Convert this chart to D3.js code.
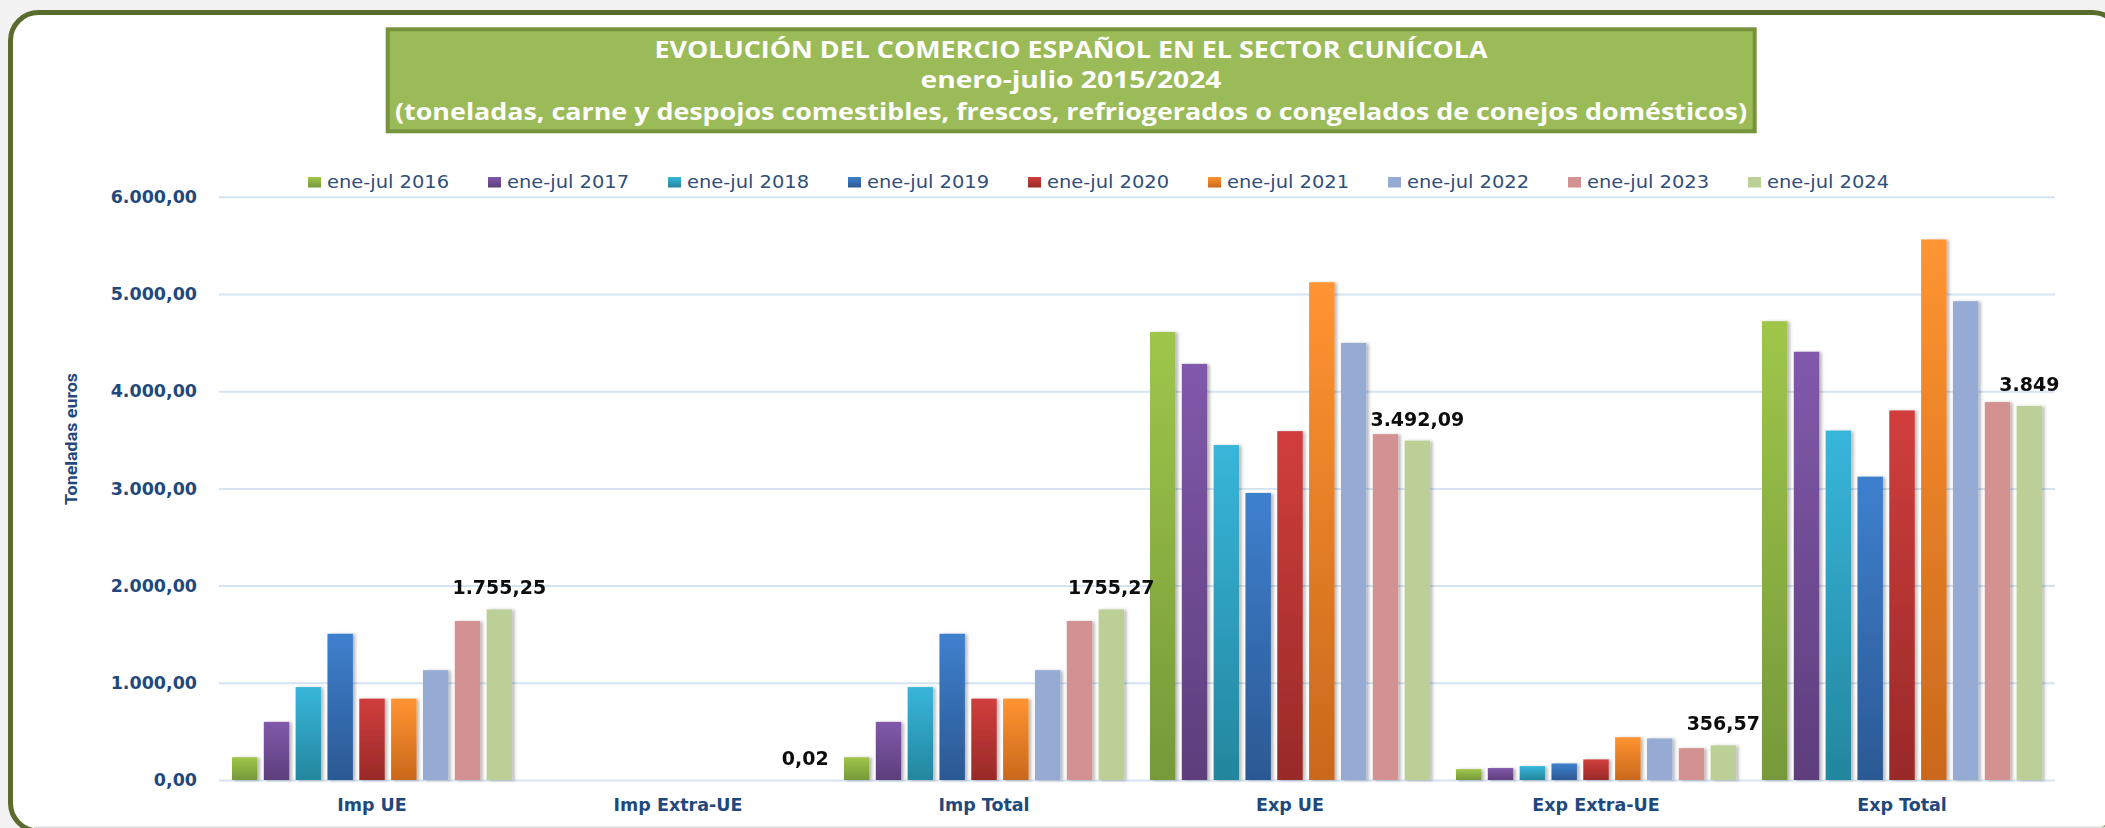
<!DOCTYPE html>
<html>
<head>
<meta charset="utf-8">
<script src="https://cdn.jsdelivr.net/npm/d3@7"></script>
<style>
  html, body { margin: 0; padding: 0; background: #f2f2f2; }
  svg { display: block; }
</style>
</head>
<body>
<div id="chart"></div>
<script>
'use strict'

const WIDTH = 2105
const HEIGHT = 828

const categories = ['Imp UE', 'Imp Extra-UE', 'Imp Total', 'Exp UE', 'Exp Extra-UE', 'Exp Total']
const years = [
  'ene-jul 2016', 'ene-jul 2017', 'ene-jul 2018', 'ene-jul 2019', 'ene-jul 2020',
  'ene-jul 2021', 'ene-jul 2022', 'ene-jul 2023', 'ene-jul 2024'
]

// toneladas, un valor por año (2016 ... 2024)
const impUE = [234, 598, 956, 1505, 837, 837, 1130, 1636, 1755.25]
const impExtraUE = [0, 0, 0, 0, 0, 0, 0, 0, 0.02]
const impTotal = [234, 598, 956, 1505, 837, 837, 1130, 1636, 1755.27]
const expUE = [4609, 4281, 3446, 2953, 3589, 5121, 4497, 3558, 3492.09]
const expExtraUE = [112, 123, 143, 170, 212, 440, 428, 328, 356.57]
const expTotal = [4720, 4406, 3595, 3121, 3802, 5561, 4926, 3888, 3848.66]

const yTicks = [0, 1000, 2000, 3000, 4000, 5000, 6000]

// etiquetas de la serie 2024, con el texto tal cual aparece en el original
const labelTexts = ['1.755,25', '0,02', '1755,27', '3.492,09', '356,57', '3.849']

const titleLines = [
  'EVOLUCIÓN DEL COMERCIO ESPAÑOL EN EL SECTOR CUNÍCOLA',
  'enero-julio 2015/2024',
  '(toneladas, carne y despojos comestibles, frescos, refriogerados o congelados de conejos domésticos)'
]
const yAxisTitle = 'Toneladas euros'

const colorsTop = ['#9fc64a', '#8159ab', '#38b6da', '#3e80ce', '#d03e3c', '#ff9431', '#95abd3', '#d39291', '#bccf96']
const colorsBottom = ['#76993a', '#5d3e7c', '#23869e', '#2b5993', '#992a28', '#c9681c', '#95abd3', '#d39291', '#bccf96']

const blueText = '#1f497d'

const seriesByCategory = [impUE, impExtraUE, impTotal, expUE, expExtraUE, expTotal]
const table = categories.map((cat, i) => ({
  category: cat,
  values: years.map((yr, j) => ({ year: yr, idx: j, value: seriesByCategory[i][j] })),
  label: labelTexts[i]
}))

const esLocale = d3.formatLocale({ decimal: ',', thousands: '.', grouping: [3], currency: ['', ''] })
const tickFormat = esLocale.format(',.2f')

const svg = d3.select('#chart')
  .append('svg')
  .attr('width', WIDTH)
  .attr('height', HEIGHT)

const defs = svg.append('defs')
years.forEach((yr, i) => {
  const g = defs.append('linearGradient')
    .attr('id', 'grad' + i)
    .attr('x1', 0).attr('y1', 0).attr('x2', 0).attr('y2', 1)
  g.append('stop').attr('offset', '0%').attr('stop-color', colorsTop[i])
  g.append('stop').attr('offset', '100%').attr('stop-color', colorsBottom[i])
})
const shadow = defs.append('filter')
  .attr('id', 'barShadow')
  .attr('x', '-30%').attr('y', '-5%').attr('width', '160%').attr('height', '110%')
shadow.append('feDropShadow')
  .attr('dx', 2.5).attr('dy', 0.5)
  .attr('stdDeviation', 1.8)
  .attr('flood-color', '#000')
  .attr('flood-opacity', 0.28)

// marco redondeado
svg.append('rect')
  .attr('x', 10.5)
  .attr('y', 12.5)
  .attr('width', 2110)
  .attr('height', 818.5)
  .attr('rx', 28)
  .attr('fill', '#ffffff')
  .attr('stroke', '#5a6b2e')
  .attr('stroke-width', 5)
svg.append('line')
  .attr('x1', 34).attr('x2', WIDTH)
  .attr('y1', 827.2).attr('y2', 827.2)
  .attr('stroke', '#dcdcdc')
  .attr('stroke-width', 1.6)

// caja del título
svg.append('rect')
  .attr('x', 387.7)
  .attr('y', 29.3)
  .attr('width', 1367)
  .attr('height', 102)
  .attr('fill', '#9bbb59')
  .attr('stroke', '#77933c')
  .attr('stroke-width', 4)

const titleY = [58, 87.5, 119.5]
const titleWidth = [833, 301, 1352]
svg.append('g')
  .selectAll('text')
  .data(titleLines)
  .enter()
  .append('text')
  .attr('x', 1071)
  .attr('y', (d, i) => titleY[i])
  .attr('text-anchor', 'middle')
  .attr('textLength', (d, i) => titleWidth[i])
  .attr('lengthAdjust', 'spacingAndGlyphs')
  .style('font-family', '"Open Sans", sans-serif')
  .style('font-weight', 'bold')
  .style('font-size', '23px')
  .style('fill', '#ffffff')
  .text((d) => d)

// escalas
const x0 = d3.scaleBand().domain(categories).range([219, 2055])
const x1 = d3.scaleBand()
  .domain(years)
  .range([0, x0.bandwidth()])
  .paddingInner(0.2)
  .paddingOuter(0.407)
const y = d3.scaleLinear().domain([0, 6000]).range([780, 196.8])

// rejilla
const grid = svg.append('g')
  .attr('transform', 'translate(219,0)')
  .call(d3.axisLeft(y).tickValues(yTicks).tickSize(-(2055 - 219)).tickFormat(''))
grid.select('.domain').remove()
grid.selectAll('line').attr('stroke', '#d5e3f3').attr('stroke-width', 2)

// eje y
const yAxis = svg.append('g')
  .attr('transform', 'translate(219,0)')
  .call(d3.axisLeft(y).tickValues(yTicks).tickSize(0).tickPadding(22).tickFormat(tickFormat))
yAxis.select('.domain').remove()
yAxis.selectAll('text')
  .style('font-family', '"DejaVu Sans", Verdana, sans-serif')
  .style('font-weight', 'bold')
  .style('font-size', '17.5px')
  .style('fill', blueText)

svg.append('text')
  .attr('transform', 'translate(77,439) rotate(-90)')
  .attr('text-anchor', 'middle')
  .attr('textLength', 132)
  .attr('lengthAdjust', 'spacingAndGlyphs')
  .style('font-family', '"Liberation Sans Narrow", Roboto, sans-serif')
  .style('font-weight', 'bold')
  .style('font-size', '16.5px')
  .style('fill', blueText)
  .text(yAxisTitle)

// eje x
const xAxis = svg.append('g')
  .attr('transform', 'translate(0,780)')
  .call(d3.axisBottom(x0).tickSize(0).tickPadding(19))
xAxis.select('.domain').remove()
xAxis.selectAll('text')
  .style('font-family', '"DejaVu Sans", Verdana, sans-serif')
  .style('font-weight', 'bold')
  .style('font-size', '17.5px')
  .style('fill', blueText)

// barras
const groups = svg.append('g')
  .attr('filter', 'url(#barShadow)')
  .selectAll('g')
  .data(table)
  .enter()
  .append('g')
  .attr('transform', (d) => `translate(${x0(d.category)},0)`)

groups.selectAll('rect')
  .data((d) => d.values)
  .enter()
  .append('rect')
  .attr('x', (d) => x1(d.year))
  .attr('y', (d) => y(d.value))
  .attr('width', x1.bandwidth())
  .attr('height', (d) => y(0) - y(d.value))
  .attr('fill', (d) => `url(#grad${d.idx})`)

// etiquetas de datos (serie 2024)
const lastYear = years[years.length - 1]
svg.append('g')
  .selectAll('text')
  .data(table)
  .enter()
  .append('text')
  .attr('x', (d) => x0(d.category) + x1(lastYear) + x1.bandwidth() / 2)
  .attr('y', (d) => y(d.values[years.length - 1].value) - 15)
  .attr('text-anchor', 'middle')
  .style('font-family', '"DejaVu Sans", Verdana, sans-serif')
  .style('font-weight', 'bold')
  .style('font-size', '19px')
  .style('fill', '#0d0d0d')
  .text((d) => d.label)

// leyenda
const legend = svg.append('g')
  .selectAll('g')
  .data(years)
  .enter()
  .append('g')
  .attr('transform', (d, i) => `translate(${308 + i * 180},0)`)
legend.append('rect')
  .attr('x', 0)
  .attr('y', 177)
  .attr('width', 13)
  .attr('height', 10.5)
  .attr('fill', (d, i) => `url(#grad${i})`)
legend.append('text')
  .attr('x', 19)
  .attr('y', 188.3)
  .attr('textLength', 122)
  .attr('lengthAdjust', 'spacingAndGlyphs')
  .style('font-family', '"DejaVu Sans", Verdana, sans-serif')
  .style('font-size', '18px')
  .style('fill', '#2f4e7a')
  .text((d) => d)
</script>
</body>
</html>
